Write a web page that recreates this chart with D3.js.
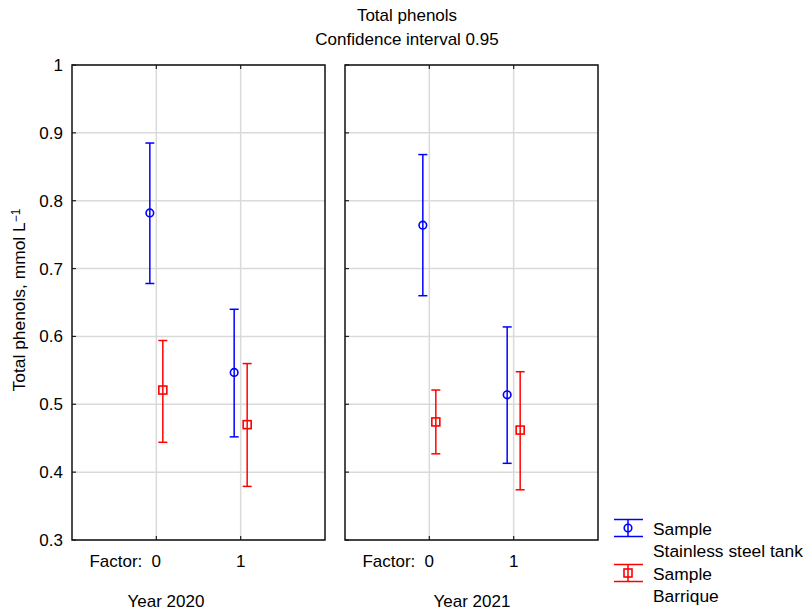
<!DOCTYPE html>
<html><head><meta charset="utf-8">
<script src="https://cdn.jsdelivr.net/npm/d3@7"></script>
<style>body{margin:0;background:#fff}text{font-family:Arial,"Liberation Sans",sans-serif;fill:#000}</style>
</head><body>
<script>
const panels = ["Year 2020", "Year 2021"];
const factors = ["0", "1"];
const yTicks = [0.3, 0.4, 0.5, 0.6, 0.7, 0.8, 0.9, 1];
const yTickLabels = ["0.3", "0.4", "0.5", "0.6", "0.7", "0.8", "0.9", "1"];
// Stainless steel tank: [panel][factor]
const steelMean  = [[0.782, 0.547], [0.764, 0.514]];
const steelLow   = [[0.678, 0.452], [0.660, 0.413]];
const steelHigh  = [[0.885, 0.640], [0.868, 0.614]];
// Barrique
const barrMean   = [[0.521, 0.470], [0.474, 0.462]];
const barrLow    = [[0.444, 0.379], [0.427, 0.374]];
const barrHigh   = [[0.594, 0.560], [0.521, 0.548]];
const seriesNames = [["Sample", "Stainless steel tank"], ["Sample", "Barrique"]];
const colors = ["#0000ff", "#ff0000"];

const W = 809, H = 614;
const svg = d3.select("body").append("svg").attr("width", W).attr("height", H);
const plotTop = 65, plotBottom = 540;
const panelX = [72, 345], panelW = 253;
const y = d3.scaleLinear().domain([0.3, 1]).range([plotBottom, plotTop]);
const FS = 17;

const series = [
  {mean: steelMean, lo: steelLow, hi: steelHigh, color: colors[0], shape: "circle", off: -6.5},
  {mean: barrMean, lo: barrLow, hi: barrHigh, color: colors[1], shape: "square", off: 6.5}
];

function marker(g, shape, cx, cy, color) {
  if (shape === "circle") {
    g.append("circle").attr("cx", cx).attr("cy", cy).attr("r", 3.8)
      .attr("fill", "none").attr("stroke", color).attr("stroke-width", 1.6);
  } else {
    g.append("rect").attr("x", cx - 4).attr("y", cy - 4).attr("width", 8).attr("height", 8)
      .attr("fill", "none").attr("stroke", color).attr("stroke-width", 1.6);
  }
}

panels.forEach((pname, p) => {
  const x0 = panelX[p];
  const x = d3.scalePoint().domain(factors).range([x0, x0 + panelW]).padding(1);
  const g = svg.append("g");
  g.selectAll(".hg").data(yTicks).enter().append("line")
    .attr("x1", x0).attr("x2", x0 + panelW).attr("y1", d => y(d)).attr("y2", d => y(d))
    .attr("stroke", "#dadada").attr("stroke-width", 1.5);
  g.selectAll(".vg").data(factors).enter().append("line")
    .attr("x1", d => x(d)).attr("x2", d => x(d)).attr("y1", plotTop).attr("y2", plotBottom)
    .attr("stroke", "#dadada").attr("stroke-width", 1.5);
  g.selectAll(".yt").data(yTicks).enter().append("line")
    .attr("x1", x0).attr("x2", x0 + 4).attr("y1", d => y(d)).attr("y2", d => y(d))
    .attr("stroke", "#222").attr("stroke-width", 1.2);
  g.selectAll(".xt").data(factors).enter().append("line")
    .attr("x1", d => x(d)).attr("x2", d => x(d)).attr("y1", plotBottom).attr("y2", plotBottom - 4)
    .attr("stroke", "#222").attr("stroke-width", 1.2);
  g.selectAll(".xt2").data(factors).enter().append("line")
    .attr("x1", d => x(d)).attr("x2", d => x(d)).attr("y1", plotTop).attr("y2", plotTop + 4)
    .attr("stroke", "#222").attr("stroke-width", 1.2);
  g.append("rect").attr("x", x0).attr("y", plotTop).attr("width", panelW).attr("height", plotBottom - plotTop)
    .attr("fill", "none").attr("stroke", "#111").attr("stroke-width", 1.5);
  g.selectAll(".xl").data(factors).enter().append("text")
    .attr("x", d => x(d)).attr("y", 567).attr("text-anchor", "middle")
    .attr("font-size", FS).text(d => d);
  g.append("text").attr("x", x(factors[0]) - 14).attr("y", 567).attr("text-anchor", "end")
    .attr("font-size", FS).text("Factor:");
  g.append("text").attr("x", p === 0 ? 166 : 472).attr("y", 607).attr("text-anchor", "middle")
    .attr("font-size", FS).text(pname);
  series.forEach(s => {
    factors.forEach((f, i) => {
      const cx = x(f) + s.off;
      g.append("line").attr("x1", cx).attr("x2", cx).attr("y1", y(s.hi[p][i])).attr("y2", y(s.lo[p][i]))
        .attr("stroke", s.color).attr("stroke-width", 1.5);
      [s.hi[p][i], s.lo[p][i]].forEach(v => {
        g.append("line").attr("x1", cx - 4.5).attr("x2", cx + 4.5).attr("y1", y(v)).attr("y2", y(v))
          .attr("stroke", s.color).attr("stroke-width", 1.5);
      });
      marker(g, s.shape, cx, y(s.mean[p][i]), s.color);
    });
  });
});

svg.selectAll(".yl").data(yTicks).enter().append("text")
  .attr("x", 63).attr("y", d => y(d)).attr("dy", "0.35em").attr("text-anchor", "end")
  .attr("font-size", FS).text((d, i) => yTickLabels[i]);
const yt = svg.append("text").attr("transform", "translate(25,300) rotate(-90)")
  .attr("text-anchor", "middle").attr("font-size", 17.4);
yt.append("tspan").text("Total phenols, mmol L");
yt.append("tspan").attr("dy", "-0.45em").attr("font-size", 12).text("\u22121");

svg.append("text").attr("x", 407).attr("y", 21).attr("text-anchor", "middle").attr("font-size", FS).text("Total phenols");
svg.append("text").attr("x", 407).attr("y", 45).attr("text-anchor", "middle").attr("font-size", FS).text("Confidence interval 0.95");

const legY = [528, 573];
series.forEach((s, k) => {
  const lg = svg.append("g");
  const cx = 628, cy = legY[k];
  [cy - 8.5, cy + 8.5].forEach(yy => lg.append("line").attr("x1", 614).attr("x2", 643).attr("y1", yy).attr("y2", yy)
    .attr("stroke", s.color).attr("stroke-width", 1.5));
  lg.append("line").attr("x1", cx).attr("x2", cx).attr("y1", cy - 8.5).attr("y2", cy + 8.5)
    .attr("stroke", s.color).attr("stroke-width", 1.5);
  marker(lg, s.shape, cx, cy, s.color);
  lg.append("text").attr("x", 653).attr("y", cy + 7).attr("font-size", 17.4).text(seriesNames[k][0]);
  lg.append("text").attr("x", 653).attr("y", cy + 29).attr("font-size", 17.4).text(seriesNames[k][1]);
});
</script>
</body></html>
